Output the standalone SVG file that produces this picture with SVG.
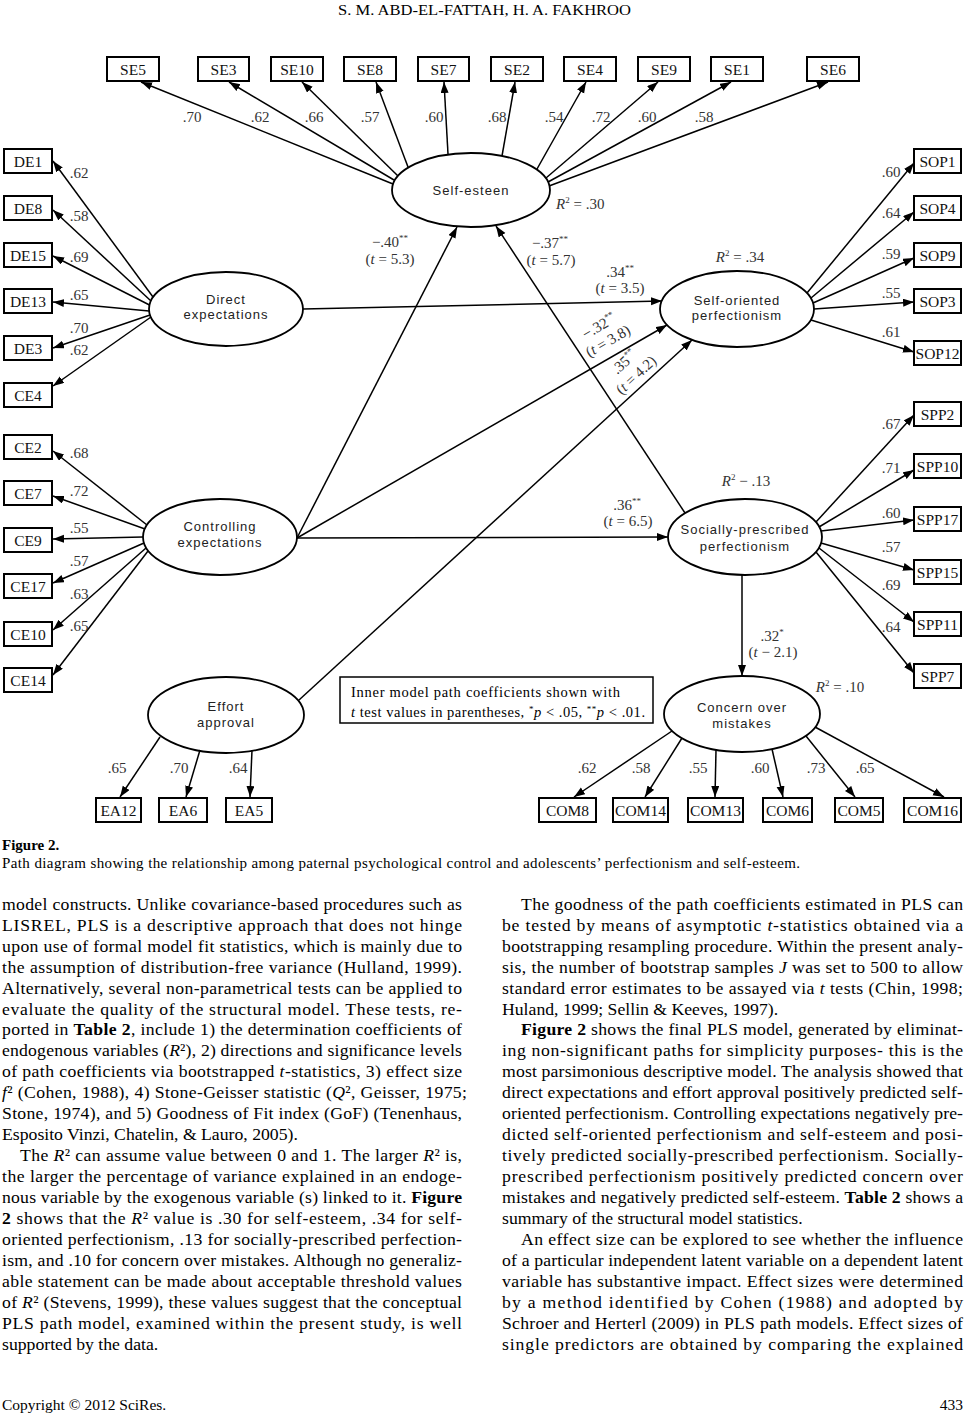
<svg xmlns="http://www.w3.org/2000/svg" width="967" height="1414" viewBox="0 0 967 1414">
<style>
.box{fill:#fff;stroke:#000;stroke-width:2}
.ell{fill:#fff;stroke:#000;stroke-width:1.8}
.lbl{font-family:"Liberation Serif",serif;font-size:15.5px;text-anchor:middle;fill:#111}
.lat{font-family:"Liberation Sans",sans-serif;font-size:13px;letter-spacing:1px;text-anchor:middle;fill:#222}
.num{font-family:"Liberation Serif",serif;font-size:15px;text-anchor:middle;fill:#333}
.sup{font-size:9px}
.con path{fill:none;stroke:#000;stroke-width:1.5;marker-end:url(#ah)}
.body{font-family:"Liberation Serif",serif;font-size:17.7px;fill:#000}
.cap{font-family:"Liberation Serif",serif;font-size:15px;fill:#000}
</style>
<defs>
<marker id="ah" markerWidth="12" markerHeight="9" refX="11" refY="4" orient="auto" markerUnits="userSpaceOnUse"><path d="M0,0 L11,4 L0,8 z" fill="#000"/></marker>
</defs>
<rect width="967" height="1414" fill="#fff"/>
<text x="338" y="15" font-family="Liberation Serif,serif" font-size="14.5" textLength="293" lengthAdjust="spacingAndGlyphs">S. M. ABD-EL-FATTAH, H. A. FAKHROO</text>

<!-- indicator boxes -->
<g id="SE5"><rect class="box" x="107" y="57" width="52" height="24"/><text class="lbl" x="133" y="74.5">SE5</text></g>
<g id="SE3"><rect class="box" x="198" y="57" width="51" height="24"/><text class="lbl" x="223.5" y="74.5">SE3</text></g>
<g id="SE10"><rect class="box" x="271" y="57" width="52" height="24"/><text class="lbl" x="297" y="74.5">SE10</text></g>
<g id="SE8"><rect class="box" x="344" y="57" width="52" height="24"/><text class="lbl" x="370" y="74.5">SE8</text></g>
<g id="SE7"><rect class="box" x="418" y="57" width="51" height="24"/><text class="lbl" x="443.5" y="74.5">SE7</text></g>
<g id="SE2"><rect class="box" x="491" y="57" width="52" height="24"/><text class="lbl" x="517" y="74.5">SE2</text></g>
<g id="SE4"><rect class="box" x="564" y="57" width="52" height="24"/><text class="lbl" x="590" y="74.5">SE4</text></g>
<g id="SE9"><rect class="box" x="638" y="57" width="52" height="24"/><text class="lbl" x="664" y="74.5">SE9</text></g>
<g id="SE1"><rect class="box" x="711" y="57" width="52" height="24"/><text class="lbl" x="737" y="74.5">SE1</text></g>
<g id="SE6"><rect class="box" x="807" y="57" width="52" height="24"/><text class="lbl" x="833" y="74.5">SE6</text></g>

<g id="DE1"><rect class="box" x="4" y="149" width="48" height="24"/><text class="lbl" x="28" y="166.5">DE1</text></g>
<g id="DE8"><rect class="box" x="4" y="196" width="48" height="24"/><text class="lbl" x="28" y="213.5">DE8</text></g>
<g id="DE15"><rect class="box" x="4" y="243" width="48" height="24"/><text class="lbl" x="28" y="260.5">DE15</text></g>
<g id="DE13"><rect class="box" x="4" y="289" width="48" height="24"/><text class="lbl" x="28" y="306.5">DE13</text></g>
<g id="DE3"><rect class="box" x="4" y="336" width="48" height="24"/><text class="lbl" x="28" y="353.5">DE3</text></g>
<g id="CE4"><rect class="box" x="4" y="383" width="48" height="24"/><text class="lbl" x="28" y="400.5">CE4</text></g>

<g id="CE2"><rect class="box" x="4" y="435" width="48" height="24"/><text class="lbl" x="28" y="452.5">CE2</text></g>
<g id="CE7"><rect class="box" x="4" y="481" width="48" height="24"/><text class="lbl" x="28" y="498.5">CE7</text></g>
<g id="CE9"><rect class="box" x="4" y="528" width="48" height="24"/><text class="lbl" x="28" y="545.5">CE9</text></g>
<g id="CE17"><rect class="box" x="4" y="574" width="48" height="24"/><text class="lbl" x="28" y="591.5">CE17</text></g>
<g id="CE10"><rect class="box" x="4" y="622" width="48" height="24"/><text class="lbl" x="28" y="639.5">CE10</text></g>
<g id="CE14"><rect class="box" x="4" y="668" width="48" height="24"/><text class="lbl" x="28" y="685.5">CE14</text></g>

<g id="SOP1"><rect class="box" x="914" y="149" width="47" height="24"/><text class="lbl" x="937.5" y="166.5">SOP1</text></g>
<g id="SOP4"><rect class="box" x="914" y="196" width="47" height="24"/><text class="lbl" x="937.5" y="213.5">SOP4</text></g>
<g id="SOP9"><rect class="box" x="914" y="243" width="47" height="24"/><text class="lbl" x="937.5" y="260.5">SOP9</text></g>
<g id="SOP3"><rect class="box" x="914" y="289" width="47" height="24"/><text class="lbl" x="937.5" y="306.5">SOP3</text></g>
<g id="SOP12"><rect class="box" x="914" y="341" width="47" height="24"/><text class="lbl" x="937.5" y="358.5">SOP12</text></g>

<g id="SPP2"><rect class="box" x="914" y="402" width="47" height="24"/><text class="lbl" x="937.5" y="419.5">SPP2</text></g>
<g id="SPP10"><rect class="box" x="914" y="454" width="47" height="24"/><text class="lbl" x="937.5" y="471.5">SPP10</text></g>
<g id="SPP17"><rect class="box" x="914" y="507" width="47" height="24"/><text class="lbl" x="937.5" y="524.5">SPP17</text></g>
<g id="SPP15"><rect class="box" x="914" y="560" width="47" height="24"/><text class="lbl" x="937.5" y="577.5">SPP15</text></g>
<g id="SPP11"><rect class="box" x="914" y="612" width="47" height="24"/><text class="lbl" x="937.5" y="629.5">SPP11</text></g>
<g id="SPP7"><rect class="box" x="914" y="664" width="47" height="24"/><text class="lbl" x="937.5" y="681.5">SPP7</text></g>

<g id="EA12"><rect class="box" x="96" y="798" width="45" height="24"/><text class="lbl" x="118.5" y="815.5">EA12</text></g>
<g id="EA6"><rect class="box" x="159" y="798" width="48" height="24"/><text class="lbl" x="183" y="815.5">EA6</text></g>
<g id="EA5"><rect class="box" x="226" y="798" width="46" height="24"/><text class="lbl" x="249" y="815.5">EA5</text></g>

<g id="COM8"><rect class="box" x="539" y="798" width="57" height="24"/><text class="lbl" x="567.5" y="815.5">COM8</text></g>
<g id="COM14"><rect class="box" x="613" y="798" width="55" height="24"/><text class="lbl" x="640.5" y="815.5">COM14</text></g>
<g id="COM13"><rect class="box" x="688" y="798" width="55" height="24"/><text class="lbl" x="715.5" y="815.5">COM13</text></g>
<g id="COM6"><rect class="box" x="763" y="798" width="49" height="24"/><text class="lbl" x="787.5" y="815.5">COM6</text></g>
<g id="COM5"><rect class="box" x="835" y="798" width="48" height="24"/><text class="lbl" x="859" y="815.5">COM5</text></g>
<g id="COM16"><rect class="box" x="904" y="798" width="57" height="24"/><text class="lbl" x="932.5" y="815.5">COM16</text></g>

<!-- latent variables -->
<g id="self-esteem"><ellipse class="ell" cx="471" cy="190" rx="79" ry="37"/><text class="lat" x="471" y="195">Self-esteen</text></g>
<g id="direct-expectations"><ellipse class="ell" cx="226" cy="309" rx="77" ry="37"/><text class="lat" x="226" y="303.5">Direct</text><text class="lat" x="226" y="319">expectations</text></g>
<g id="controlling-expectations"><ellipse class="ell" cx="220" cy="537" rx="77" ry="38"/><text class="lat" x="220" y="531">Controlling</text><text class="lat" x="220" y="547">expectations</text></g>
<g id="effort-approval"><ellipse class="ell" cx="226" cy="715" rx="78" ry="38"/><text class="lat" x="226" y="711">Effort</text><text class="lat" x="226" y="727">approval</text></g>
<g id="self-oriented"><ellipse class="ell" cx="737" cy="309" rx="77" ry="38"/><text class="lat" x="737" y="305">Self-oriented</text><text class="lat" x="737" y="320">perfectionism</text></g>
<g id="socially-prescribed"><ellipse class="ell" cx="745" cy="537" rx="77" ry="38"/><text class="lat" x="745" y="534">Socially-prescribed</text><text class="lat" x="745" y="551">perfectionism</text></g>
<g id="concern-over-mistakes"><ellipse class="ell" cx="742" cy="714" rx="78" ry="38"/><text class="lat" x="742" y="712">Concern over</text><text class="lat" x="742" y="728">mistakes</text></g>

<g id="legend"><rect x="340" y="677" width="313" height="46" fill="#fff" stroke="#000" stroke-width="1.5"/>
<text x="351" y="697" font-family="Liberation Serif,serif" font-size="14.5" textLength="269" lengthAdjust="spacing">Inner model path coefficients shown with</text>
<text x="351" y="717" font-family="Liberation Serif,serif" font-size="14.5" textLength="294" lengthAdjust="spacing"><tspan font-style="italic">t</tspan> test values in parentheses, <tspan font-size="9" dy="-5">*</tspan><tspan font-style="italic" dy="5">p</tspan> &lt; .05, <tspan font-size="9" dy="-5">**</tspan><tspan font-style="italic" dy="5">p</tspan> &lt; .01.</text></g>

<!-- connectors -->
<g id="connectors" class="con">
<path d="M393,184 L141,82"/>
<path d="M394,180 L229,82"/>
<path d="M398,176 L302,82"/>
<path d="M408,167 L376,82"/>
<path d="M448,154 L444,82"/>
<path d="M502,156 L515,82"/>
<path d="M537,169 L586,82"/>
<path d="M546,178 L658,82"/>
<path d="M548,182 L731,82"/>
<path d="M549,186 L828,82"/>

<path d="M153,297 L53,161"/>
<path d="M151,301 L53,210"/>
<path d="M149.5,305 L53,256"/>
<path d="M149,311 L53,302"/>
<path d="M150,315 L53,348"/>
<path d="M151,317 L53,386"/>

<path d="M147,525 L53,451"/>
<path d="M145,529 L53,496"/>
<path d="M143,537 L53,539"/>
<path d="M144,543 L53,583"/>
<path d="M146,548 L53,630"/>
<path d="M148,551 L53,675"/>

<path d="M807,293 L914,163"/>
<path d="M811,298 L914,212"/>
<path d="M813,303 L914,258"/>
<path d="M814,309 L914,302"/>
<path d="M811,320 L914,352"/>

<path d="M816,522 L914,415"/>
<path d="M819,527 L914,470"/>
<path d="M821,531 L914,520"/>
<path d="M821,543 L914,570"/>
<path d="M819,548 L914,622"/>
<path d="M816,552 L914,673"/>

<path d="M160,737 L120,797"/>
<path d="M200,750 L186,797"/>
<path d="M252,750 L250,797"/>

<path d="M672,731 L574,797"/>
<path d="M682,738 L645,797"/>
<path d="M716,750 L715,797"/>
<path d="M772,749 L783,797"/>
<path d="M806,736 L855,797"/>
<path d="M815,727 L944,797"/>

<path d="M303,309 L662,301"/>
<path d="M297,538 L457,227"/>
<path d="M297,538 L667,325"/>
<path d="M297,538 L668,537"/>
<path d="M299,700 L692,340"/>
<path d="M685,513 L496,226"/>
<path d="M742,575 L742,676"/>
</g>

<!-- loadings -->
<g id="loadings" class="num">
<text x="192" y="122">.70</text><text x="260" y="122">.62</text><text x="314" y="122">.66</text><text x="370" y="122">.57</text><text x="434" y="122">.60</text><text x="497" y="122">.68</text><text x="554" y="122">.54</text><text x="601" y="122">.72</text><text x="647" y="122">.60</text><text x="704" y="122">.58</text>
<text x="79" y="178">.62</text><text x="79" y="221">.58</text><text x="79" y="262">.69</text><text x="79" y="300">.65</text><text x="79" y="333">.70</text><text x="79" y="355">.62</text>
<text x="79" y="458">.68</text><text x="79" y="496">.72</text><text x="79" y="533">.55</text><text x="79" y="566">.57</text><text x="79" y="599">.63</text><text x="79" y="631">.65</text>
<text x="891" y="177">.60</text><text x="891" y="218">.64</text><text x="891" y="259">.59</text><text x="891" y="298">.55</text><text x="891" y="337">.61</text>
<text x="891" y="429">.67</text><text x="891" y="473">.71</text><text x="891" y="518">.60</text><text x="891" y="552">.57</text><text x="891" y="590">.69</text><text x="891" y="632">.64</text>
<text x="117" y="773">.65</text><text x="179" y="773">.70</text><text x="238" y="773">.64</text>
<text x="587" y="773">.62</text><text x="641" y="773">.58</text><text x="698" y="773">.55</text><text x="760" y="773">.60</text><text x="816" y="773">.73</text><text x="865" y="773">.65</text>
</g>

<!-- path coefficients -->
<g id="coefficients" class="num">
<text x="390" y="247">−.40<tspan class="sup" dy="-6">**</tspan></text>
<text x="390" y="264">(<tspan font-style="italic">t</tspan> = 5.3)</text>
<text x="550" y="248">−.37<tspan class="sup" dy="-6">**</tspan></text>
<text x="551" y="265">(<tspan font-style="italic">t</tspan> = 5.7)</text>
<text x="620" y="277">.34<tspan class="sup" dy="-6">**</tspan></text>
<text x="620" y="293">(<tspan font-style="italic">t</tspan> = 3.5)</text>
<text x="627" y="510">.36<tspan class="sup" dy="-6">**</tspan></text>
<text x="628" y="526">(<tspan font-style="italic">t</tspan> = 6.5)</text>
<text x="772" y="641">.32<tspan class="sup" dy="-6">*</tspan></text>
<text x="773" y="657">(<tspan font-style="italic">t</tspan> − 2.1)</text>
<text transform="translate(599,326) rotate(-30)" y="5">−.32<tspan class="sup" dy="-6">**</tspan></text>
<text transform="translate(608,341) rotate(-30)" y="5">(<tspan font-style="italic">t</tspan> = 3.8)</text>
<text transform="translate(624,362) rotate(-43)" y="5">.35<tspan class="sup" dy="-6">**</tspan></text>
<text transform="translate(636,375) rotate(-43)" y="5">(<tspan font-style="italic">t</tspan> = 4.2)</text>
<text x="556" y="209" text-anchor="start"><tspan font-style="italic">R</tspan><tspan class="sup" dy="-6">2</tspan><tspan dy="6"> = .30</tspan></text>
<text x="740" y="262"><tspan font-style="italic">R</tspan><tspan class="sup" dy="-6">2</tspan><tspan dy="6"> = .34</tspan></text>
<text x="746" y="486"><tspan font-style="italic">R</tspan><tspan class="sup" dy="-6">2</tspan><tspan dy="6"> − .13</tspan></text>
<text x="840" y="692"><tspan font-style="italic">R</tspan><tspan class="sup" dy="-6">2</tspan><tspan dy="6"> = .10</tspan></text>
</g>

<!-- caption -->
<text class="cap" x="2" y="850" font-weight="bold">Figure 2.</text>
<text class="cap" x="2" y="868" textLength="798" lengthAdjust="spacing">Path diagram showing the relationship among paternal psychological control and adolescents’ perfectionism and self-esteem.</text>

<!-- left column -->
<g class="body">
<text x="2" y="910" textLength="460" lengthAdjust="spacing">model constructs. Unlike covariance-based procedures such as</text>
<text x="2" y="931" textLength="460" lengthAdjust="spacing">LISREL, PLS is a descriptive approach that does not hinge</text>
<text x="2" y="952" textLength="460" lengthAdjust="spacing">upon use of formal model fit statistics, which is mainly due to</text>
<text x="2" y="973" textLength="460" lengthAdjust="spacing">the assumption of distribution-free variance (Hulland, 1999).</text>
<text x="2" y="994" textLength="460" lengthAdjust="spacing">Alternatively, several non-parametrical tests can be applied to</text>
<text x="2" y="1015" textLength="460" lengthAdjust="spacing">evaluate the quality of the structural model. These tests, re-</text>
<text x="2" y="1035" textLength="460" lengthAdjust="spacing">ported in <tspan font-weight="bold">Table 2</tspan>, include 1) the determination coefficients of</text>
<text x="2" y="1056" textLength="460" lengthAdjust="spacing">endogenous variables (<tspan font-style="italic">R</tspan>²), 2) directions and significance levels</text>
<text x="2" y="1077" textLength="460" lengthAdjust="spacing">of path coefficients via bootstrapped <tspan font-style="italic">t</tspan>-statistics, 3) effect size</text>
<text x="2" y="1098" textLength="465" lengthAdjust="spacing"><tspan font-style="italic">f</tspan>²  (Cohen, 1988), 4) Stone-Geisser statistic (<tspan font-style="italic">Q</tspan>², Geisser, 1975;</text>
<text x="2" y="1119" textLength="460" lengthAdjust="spacing">Stone, 1974), and 5) Goodness of Fit index (GoF) (Tenenhaus,</text>
<text x="2" y="1140">Esposito Vinzi, Chatelin, &amp; Lauro, 2005).</text>
<text x="20" y="1161" textLength="442" lengthAdjust="spacing">The <tspan font-style="italic">R</tspan>² can assume value between 0 and 1. The larger <tspan font-style="italic">R</tspan>² is,</text>
<text x="2" y="1182" textLength="460" lengthAdjust="spacing">the larger the percentage of variance explained in an endoge-</text>
<text x="2" y="1203" textLength="460" lengthAdjust="spacing">nous variable by the exogenous variable (s) linked to it. <tspan font-weight="bold">Figure</tspan></text>
<text x="2" y="1224" textLength="460" lengthAdjust="spacing"><tspan font-weight="bold">2</tspan> shows that the <tspan font-style="italic">R</tspan>² value is .30 for self-esteem, .34 for self-</text>
<text x="2" y="1245" textLength="460" lengthAdjust="spacing">oriented perfectionism, .13 for socially-prescribed perfection-</text>
<text x="2" y="1266" textLength="460" lengthAdjust="spacing">ism, and .10 for concern over mistakes. Although no generaliz-</text>
<text x="2" y="1287" textLength="460" lengthAdjust="spacing">able statement can be made about acceptable threshold values</text>
<text x="2" y="1308" textLength="460" lengthAdjust="spacing">of <tspan font-style="italic">R</tspan>² (Stevens, 1999), these values suggest that the conceptual</text>
<text x="2" y="1329" textLength="460" lengthAdjust="spacing">PLS path model, examined within the present study, is well</text>
<text x="2" y="1350">supported by the data.</text>
</g>

<!-- right column -->
<g class="body">
<text x="521" y="910" textLength="442" lengthAdjust="spacing">The goodness of the path coefficients estimated in PLS can</text>
<text x="502" y="931" textLength="461" lengthAdjust="spacing">be tested by means of asymptotic <tspan font-style="italic">t</tspan>-statistics obtained via a</text>
<text x="502" y="952" textLength="461" lengthAdjust="spacing">bootstrapping resampling procedure. Within the present analy-</text>
<text x="502" y="973" textLength="461" lengthAdjust="spacing">sis, the number of bootstrap samples <tspan font-style="italic">J</tspan> was set to 500 to allow</text>
<text x="502" y="994" textLength="461" lengthAdjust="spacing">standard error estimates to be assayed via <tspan font-style="italic">t</tspan> tests (Chin, 1998;</text>
<text x="502" y="1015">Huland, 1999; Sellin &amp; Keeves, 1997).</text>
<text x="521" y="1035" textLength="442" lengthAdjust="spacing"><tspan font-weight="bold">Figure 2</tspan> shows the final PLS model, generated by eliminat-</text>
<text x="502" y="1056" textLength="461" lengthAdjust="spacing">ing non-significant paths for simplicity purposes- this is the</text>
<text x="502" y="1077" textLength="461" lengthAdjust="spacing">most parsimonious descriptive model. The analysis showed that</text>
<text x="502" y="1098" textLength="461" lengthAdjust="spacing">direct expectations and effort approval positively predicted self-</text>
<text x="502" y="1119" textLength="461" lengthAdjust="spacing">oriented perfectionism. Controlling expectations negatively pre-</text>
<text x="502" y="1140" textLength="461" lengthAdjust="spacing">dicted self-oriented perfectionism and self-esteem and posi-</text>
<text x="502" y="1161" textLength="461" lengthAdjust="spacing">tively predicted socially-prescribed perfectionism. Socially-</text>
<text x="502" y="1182" textLength="461" lengthAdjust="spacing">prescribed perfectionism positively predicted concern over</text>
<text x="502" y="1203" textLength="461" lengthAdjust="spacing">mistakes and negatively predicted self-esteem. <tspan font-weight="bold">Table 2</tspan> shows a</text>
<text x="502" y="1224">summary of the structural model statistics.</text>
<text x="521" y="1245" textLength="442" lengthAdjust="spacing">An effect size can be explored to see whether the influence</text>
<text x="502" y="1266" textLength="461" lengthAdjust="spacing">of a particular independent latent variable on a dependent latent</text>
<text x="502" y="1287" textLength="461" lengthAdjust="spacing">variable has substantive impact. Effect sizes were determined</text>
<text x="502" y="1308" textLength="461" lengthAdjust="spacing">by a method identified by Cohen (1988) and adopted by</text>
<text x="502" y="1329" textLength="461" lengthAdjust="spacing">Schroer and Herterl (2009) in PLS path models. Effect sizes of</text>
<text x="502" y="1350" textLength="461" lengthAdjust="spacing">single predictors are obtained by comparing the explained</text>
</g>

<text x="2" y="1410" font-family="Liberation Serif,serif" font-size="15.5">Copyright © 2012 SciRes.</text>
<text x="963" y="1410" font-family="Liberation Serif,serif" font-size="15.5" text-anchor="end">433</text>
</svg>
